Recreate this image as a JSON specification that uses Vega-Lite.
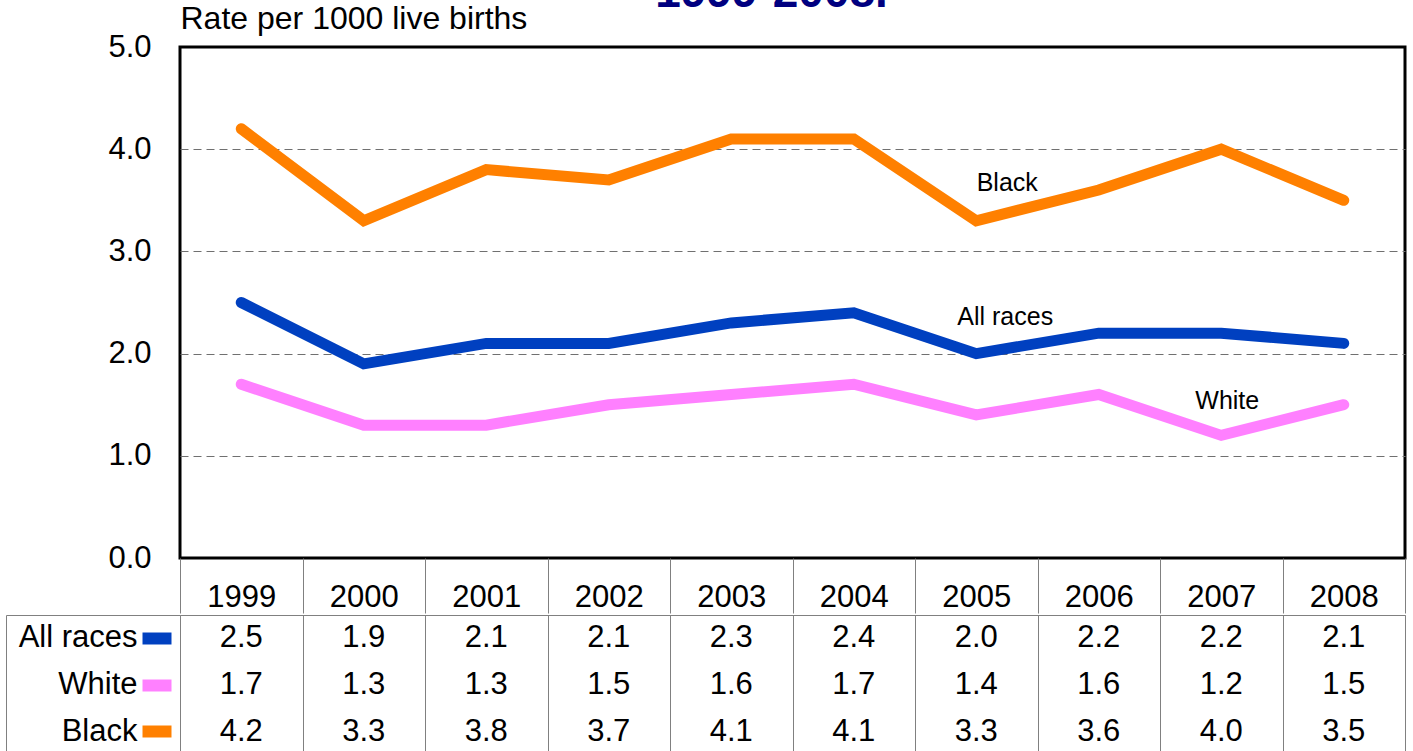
{
  "$schema": "https://vega.github.io/schema/vega-lite/v6.json",
  "padding": {"left": 5, "right": 0, "top": -31, "bottom": 0},
  "background": "white",
  "title": {"text": "1999-2008.", "font": "Liberation Sans", "fontSize": 46, "fontWeight": "bold", "color": "#000080", "anchor": "middle", "baseline": "alphabetic", "offset": -52, "dx": -21, "frame": "group"},
  "datasets": {
    "rates": [
      {"race": "All races", "year": "1999", "rate": 2.5}, {"race": "All races", "year": "2000", "rate": 1.9},
      {"race": "All races", "year": "2001", "rate": 2.1}, {"race": "All races", "year": "2002", "rate": 2.1},
      {"race": "All races", "year": "2003", "rate": 2.3}, {"race": "All races", "year": "2004", "rate": 2.4},
      {"race": "All races", "year": "2005", "rate": 2.0}, {"race": "All races", "year": "2006", "rate": 2.2},
      {"race": "All races", "year": "2007", "rate": 2.2}, {"race": "All races", "year": "2008", "rate": 2.1},
      {"race": "White", "year": "1999", "rate": 1.7}, {"race": "White", "year": "2000", "rate": 1.3},
      {"race": "White", "year": "2001", "rate": 1.3}, {"race": "White", "year": "2002", "rate": 1.5},
      {"race": "White", "year": "2003", "rate": 1.6}, {"race": "White", "year": "2004", "rate": 1.7},
      {"race": "White", "year": "2005", "rate": 1.4}, {"race": "White", "year": "2006", "rate": 1.6},
      {"race": "White", "year": "2007", "rate": 1.2}, {"race": "White", "year": "2008", "rate": 1.5},
      {"race": "Black", "year": "1999", "rate": 4.2}, {"race": "Black", "year": "2000", "rate": 3.3},
      {"race": "Black", "year": "2001", "rate": 3.8}, {"race": "Black", "year": "2002", "rate": 3.7},
      {"race": "Black", "year": "2003", "rate": 4.1}, {"race": "Black", "year": "2004", "rate": 4.1},
      {"race": "Black", "year": "2005", "rate": 3.3}, {"race": "Black", "year": "2006", "rate": 3.6},
      {"race": "Black", "year": "2007", "rate": 4.0}, {"race": "Black", "year": "2008", "rate": 3.5}
    ]
  },
  "spacing": -4,
  "vconcat": [
    {
      "width": 1225,
      "height": 511,
      "view": {"stroke": "black", "strokeWidth": 3},
      "layer": [
        {
          "data": {"name": "rates"},
          "mark": {"type": "line", "strokeWidth": 11, "strokeCap": "round", "strokeJoin": "miter"},
          "encoding": {
            "x": {"field": "year", "type": "ordinal", "bandPosition": 0.5,
              "scale": {"type": "band", "paddingInner": 0, "paddingOuter": 0},
              "axis": {"title": null, "domain": false, "ticks": true, "tickBand": "extent", "tickSize": 55, "tickColor": "#808080", "tickWidth": 1,
                "labelAngle": 0, "labelFont": "Liberation Sans", "labelFontSize": 31, "labelColor": "black", "labelBaseline": "alphabetic", "labelPadding": -7}},
            "y": {"field": "rate", "type": "quantitative",
              "scale": {"domain": [0, 5], "nice": false, "zero": true},
              "axis": {"values": [0, 1, 2, 3, 4, 5], "format": ".1f", "domain": false, "ticks": false, "tickSize": 0, "labelPadding": 29,
                "labelFont": "Liberation Sans", "labelFontSize": 31, "labelColor": "black",
                "grid": true, "gridDash": [8, 5], "gridWidth": 1,
                "gridColor": {"condition": {"test": "datum.value === 0 || datum.value === 5", "value": "transparent"}, "value": "#707070"},
                "title": "Rate per 1000 live births", "titleAngle": 0, "titleX": 0, "titleY": -19, "titleAlign": "left", "titleBaseline": "alphabetic",
                "titleFont": "Liberation Sans", "titleFontSize": 32, "titleFontWeight": "normal", "titleColor": "black"}},
            "color": {"field": "race", "type": "nominal",
              "scale": {"domain": ["All races", "White", "Black"], "range": ["#0040C0", "#FF80FF", "#FF8000"]}, "legend": null}
          }
        },
        {
          "data": {"values": [{"label": "Black", "year": "2005", "rate": 3.67}]},
          "mark": {"type": "text", "font": "Liberation Sans", "fontSize": 25, "color": "black", "dx": 31, "baseline": "middle"},
          "encoding": {"x": {"field": "year", "type": "ordinal", "bandPosition": 0.5}, "y": {"field": "rate", "type": "quantitative"}, "text": {"field": "label"}}
        },
        {
          "data": {"values": [{"label": "All races", "year": "2005", "rate": 2.36}]},
          "mark": {"type": "text", "font": "Liberation Sans", "fontSize": 25, "color": "black", "dx": 29, "baseline": "middle"},
          "encoding": {"x": {"field": "year", "type": "ordinal", "bandPosition": 0.5}, "y": {"field": "rate", "type": "quantitative"}, "text": {"field": "label"}}
        },
        {
          "data": {"values": [{"label": "White", "year": "2007", "rate": 1.54}]},
          "mark": {"type": "text", "font": "Liberation Sans", "fontSize": 25, "color": "black", "dx": 6, "baseline": "middle"},
          "encoding": {"x": {"field": "year", "type": "ordinal", "bandPosition": 0.5}, "y": {"field": "rate", "type": "quantitative"}, "text": {"field": "label"}}
        }
      ]
    },
    {
      "width": 1225,
      "height": 140,
      "view": {"stroke": "#808080", "strokeWidth": 1},
      "data": {"name": "rates"},
      "resolve": {"axis": {"y": "independent"}},
      "layer": [
        {
          "mark": {"type": "text", "font": "Liberation Sans", "fontSize": 31, "color": "black", "baseline": "middle"},
          "encoding": {
            "x": {"field": "year", "type": "ordinal",
              "scale": {"type": "band", "paddingInner": 0, "paddingOuter": 0},
              "axis": {"orient": "top", "title": null, "labels": false, "ticks": false, "domain": false, "grid": true, "tickBand": "extent", "gridColor": "#808080", "gridWidth": 1}},
            "y": {"field": "race", "type": "nominal",
              "scale": {"domain": ["All races", "White", "Black"], "paddingInner": 0, "paddingOuter": 0},
              "axis": {"orient": "left", "title": null, "domain": false, "offset": 9, "ticks": true, "tickSize": 29, "tickWidth": 12, "tickCap": "butt",
                "tickColor": {"condition": [
                  {"test": "datum.value === 'All races'", "value": "#0040C0"},
                  {"test": "datum.value === 'White'", "value": "#FF80FF"}], "value": "#FF8000"},
                "labelPadding": 5, "labelFont": "Liberation Sans", "labelFontSize": 31, "labelColor": "black"}},
            "text": {"field": "rate", "type": "quantitative", "format": ".1f"}
          }
        },
        {
          "mark": {"type": "point", "opacity": 0},
          "encoding": {
            "y": {"field": "race", "type": "nominal",
              "axis": {"orient": "left", "title": null, "labels": false, "offset": 174, "domain": true, "domainColor": "#808080", "domainWidth": 1,
                "ticks": true, "tickBand": "extent", "tickSize": -174, "tickWidth": 1,
                "tickColor": {"condition": {"test": "datum.extra", "value": "#808080"}, "value": "transparent"}}}
          }
        }
      ]
    }
  ]
}
